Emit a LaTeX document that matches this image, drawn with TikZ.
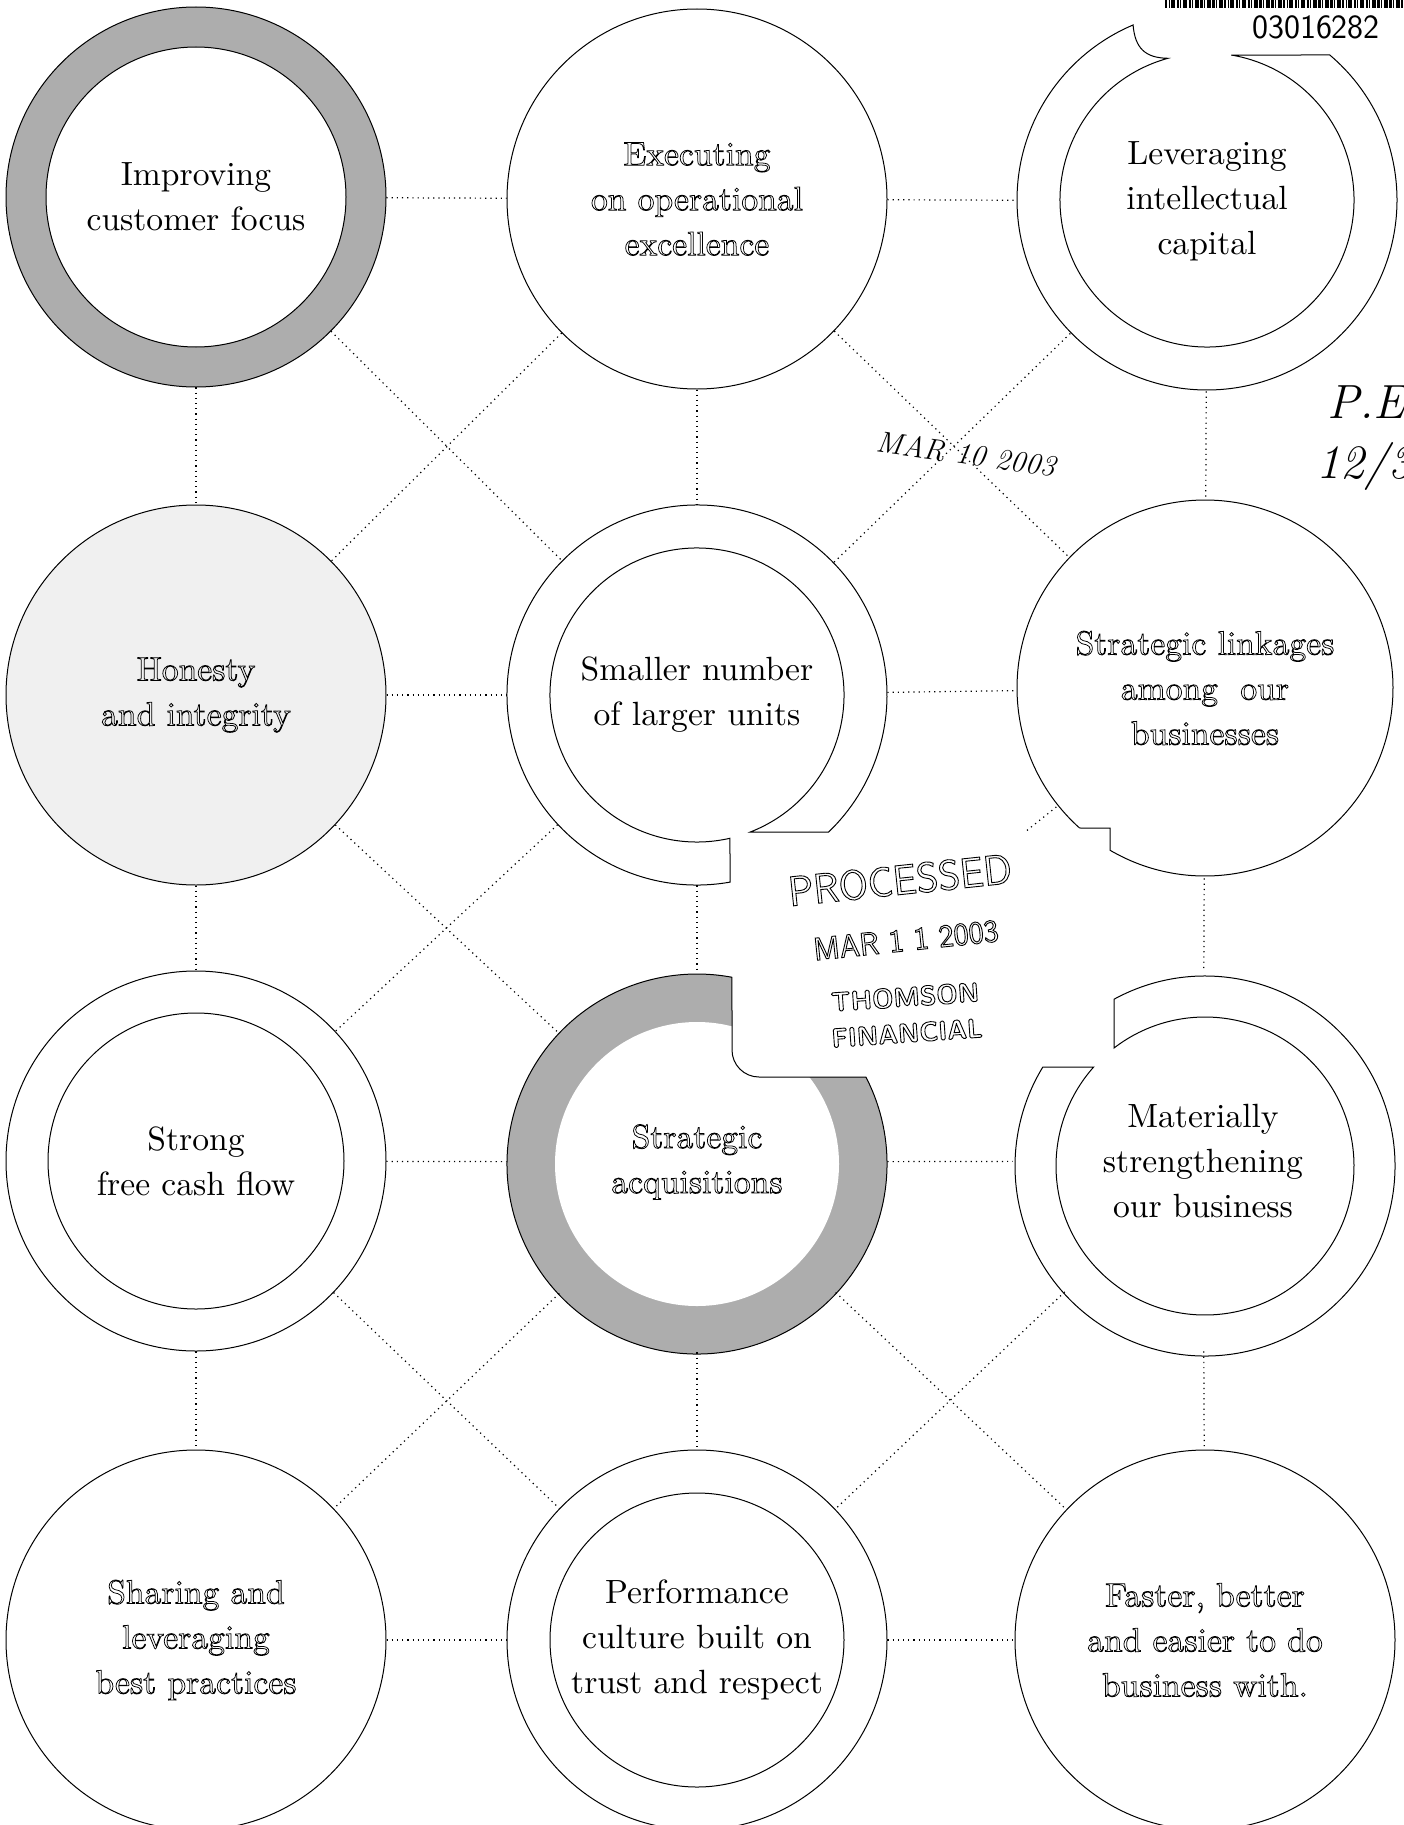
\documentclass[tikz,border=0pt]{standalone}
\usepackage{fontspec}
\newfontfamily\bookface{lmroman10-regular.otf}
\newcommand{\hollow}[2][0.38]{\special{pdf:literal #1 w 1 Tr}#2\special{pdf:literal 0 Tr}}
\newcommand{\bodyfont}{\bookface\fontsize{16.8}{22.5}\selectfont}
\tikzset{
  disc/.style={circle, minimum size=190pt, inner sep=0pt, align=center, font=\bodyfont},
  rim/.style={draw, line width=0.5pt},
  ring/.style={line width=0.5pt},
  shade/.style={fill=black!32},
  link/.style={line width=0.6pt, dotted},
  stamp/.style={inner sep=0pt},
}
\begin{document}
\begin{tikzpicture}[x=0.5pt,y=0.5pt,yscale=-1,xscale=1]
\useasboundingbox (0,0) rectangle (1403,1825);

% Centres of the grid
\coordinate (p11) at (196,197);
\coordinate (p12) at (697,199);
\coordinate (p13) at (1207,201);
\coordinate (p21) at (196,695);
\coordinate (p22) at (697,695);
\coordinate (p23) at (1205,688);
\coordinate (p31) at (196,1161);
\coordinate (p32) at (697,1162);
\coordinate (p33) at (1203,1161);
\coordinate (p41) at (196,1640);
\coordinate (p42) at (697,1640);
\coordinate (p43) at (1205,1640);

%Shape: Shaded ring
\fill[shade, even odd rule] (p11) circle[radius=190] (p11) circle[radius=150];
\draw[ring] (p11) circle[radius=190] (p11) circle[radius=150];

%Shape: Ring with notch at top
\begin{scope}[shift={(1207,200)}]
\draw[ring] (-49.75:190) arc[start angle=-49.75, end angle=247.1, radius=190] .. controls (-72,-152) and (-62,-142) .. (254.6:147) arc[start angle=254.6, end angle=-80.5, radius=147] -- cycle;
\end{scope}

%Shape: Ring cut at bottom right
\begin{scope}[shift={(697,695)}]
\draw[ring] (80:190) arc[start angle=80, end angle=406.14, radius=190] -- (68.75:147) arc[start angle=68.75, end angle=-282.97, radius=147] -- cycle;
\end{scope}

%Shape: Circle with step at bottom left
\begin{scope}[shift={(1205,688)}]
\draw[ring] (131.87:188) arc[start angle=131.87, end angle=480.35, radius=188] -- (-95,140) -- cycle;
\end{scope}

%Shape: Plain ring
\draw[ring] (p31) circle[radius=190] (p31) circle[radius=148];

%Shape: Shaded ring with notch at top right
\begin{scope}[shift={(697,1164)}]
\fill[shade] (-27.25:190) arc[start angle=-27.25, end angle=280.61, radius=190] -- (35,-114) arc[start angle=180, end angle=90, radius=27] -- cycle;
\fill[white] (0,0) circle[radius=142];
\draw[ring] (-27.25:190) arc[start angle=-27.25, end angle=280.61, radius=190] -- (35,-114) arc[start angle=180, end angle=90, radius=27] -- cycle;
\end{scope}

%Shape: Ring cut at top left
\begin{scope}[shift={(1205,1166)}]
\draw[ring] (241.39:190) arc[start angle=241.39, end angle=571.4, radius=190] -- (221.64:149) arc[start angle=221.64, end angle=-127.64, radius=149] -- cycle;
\end{scope}

%Shape: Plain ring
\draw[ring] (p42) circle[radius=190] (p42) circle[radius=147];

% Text Nodes
\node[disc] (focus) at (p11) {Improving\\customer focus};
\node[disc, rim] (excel) at (p12) {\hollow{Executing}\\\hollow{on operational}\\\hollow{excellence}};
\node[disc] (intel) at (p13) {Leveraging\\intellectual\\capital};
\node[disc, rim, fill=black!6] (honest) at (p21) {\hollow{Honesty}\\\hollow{and integrity}};
\node[disc] (units) at (p22) {Smaller number\\of larger units};
\node[disc] (links) at (p23) {\hollow{Strategic linkages}\\\hollow{among\ \ our}\\\hollow{businesses}};
\node[disc] (cash) at (p31) {Strong\\free cash flow};
\node[disc] (acq) at (p32) {\hollow{Strategic}\\\hollow{acquisitions}};
\node[disc] (material) at (p33) {Materially\\strengthening\\our business};
\node[disc, rim] (share) at (p41) {\hollow{Sharing and}\\\hollow{leveraging}\\\hollow{best practices}};
\node[disc] (culture) at (p42) {Performance\\culture built on\\trust and respect};
\node[disc, rim] (faster) at (p43) {\hollow{Faster, better}\\\hollow{and easier to do}\\\hollow{business with.}};
\coordinate (stub) at (1025,832);

%Straight Lines: rows
\draw[link] (focus) -- (excel);
\draw[link] (excel) -- (intel);
\draw[link] (honest) -- (units);
\draw[link] (units) -- (links);
\draw[link] (cash) -- (acq);
\draw[link] (acq) -- (material);
\draw[link] (share) -- (culture);
\draw[link] (culture) -- (faster);
%Straight Lines: columns
\draw[link] (focus) -- (honest);
\draw[link] (honest) -- (cash);
\draw[link] (cash) -- (share);
\draw[link] (excel) -- (units);
\draw[link] (units) -- (acq);
\draw[link] (acq) -- (culture);
\draw[link] (intel) -- (links);
\draw[link] (links) -- (material);
\draw[link] (material) -- (faster);
%Straight Lines: diagonals
\draw[link] (focus) -- (units);
\draw[link] (excel) -- (honest);
\draw[link] (excel) -- (links);
\draw[link] (intel) -- (units);
\draw[link] (honest) -- (acq);
\draw[link] (units) -- (cash);
\draw[link] (cash) -- (culture);
\draw[link] (acq) -- (share);
\draw[link] (acq) -- (faster);
\draw[link] (material) -- (culture);
\draw[link] (links) -- (stub);

% Stamps and marks
\draw[line width=4pt, dash pattern=on 1.2pt off 0.6pt on 0.5pt off 0.9pt on 2pt off 0.7pt] (1165,4) -- (1403,4);
\node[stamp, font=\sffamily\fontsize{17}{20}\selectfont] (docno) at (1316,27) {03016282};
\node[stamp, font=\sffamily\fontsize{21}{24}\selectfont, rotate=6] (processed) at (900,880) {\hollow[0.45]{PROCESSED}};
\node[stamp, font=\sffamily\fontsize{16}{19}\selectfont, rotate=6] (stampdate) at (906,940) {\hollow[0.45]{MAR 1 1 2003}};
\node[stamp, font=\sffamily\bfseries\fontsize{13.5}{15.5}\selectfont, rotate=4] (thomson) at (905,997) {\hollow[0.45]{THOMSON}};
\node[stamp, font=\sffamily\bfseries\fontsize{13.5}{15.5}\selectfont, rotate=4] (financial) at (907,1033) {\hollow[0.45]{FINANCIAL}};
\node[stamp, font=\itshape\fontsize{15}{18}\selectfont, rotate=-8] (recvd) at (966,454) {MAR 10 2003};
\node[stamp, anchor=west, font=\itshape\fontsize{24}{28}\selectfont] (pe) at (1327,402) {P.E};
\node[stamp, anchor=west, font=\itshape\fontsize{24}{28}\selectfont] (pedate) at (1316,466) {12/3};

\end{tikzpicture}
\end{document}
